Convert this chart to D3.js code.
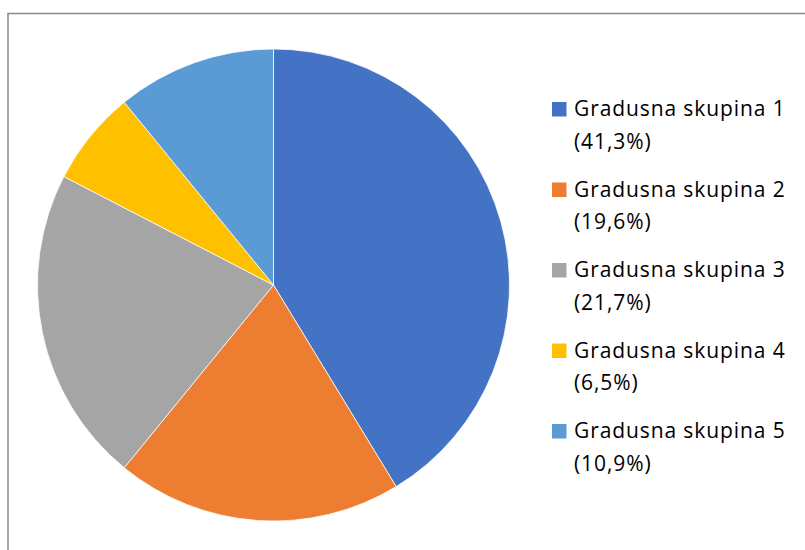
<!DOCTYPE html>
<html>
<head>
<meta charset="utf-8">
<script src="https://cdn.jsdelivr.net/npm/d3@7"></script>
<style>
  body { margin: 0; background: #fff; }
  svg { display: block; }
</style>
</head>
<body>
<div id="chart_area"></div>
<script>
var categories = ["Gradusna skupina 1", "Gradusna skupina 2", "Gradusna skupina 3", "Gradusna skupina 4", "Gradusna skupina 5"];
var values = [41.3, 19.6, 21.7, 6.5, 10.9];
var labels = ["(41,3%)", "(19,6%)", "(21,7%)", "(6,5%)", "(10,9%)"];
var colors = ["#4472C4", "#ED7D31", "#A5A5A5", "#FFC000", "#5B9BD5"];

var width = 805, height = 550;

var svg = d3.select("#chart_area")
    .append("svg")
        .attr("width", width)
        .attr("height", height);

// chart frame (cropped on right and bottom)
svg.append("rect")
    .attr("x", 8)
    .attr("y", 13.5)
    .attr("width", 820)
    .attr("height", 560)
    .attr("fill", "none")
    .attr("stroke", "#898989")
    .attr("stroke-width", 1.5);

var cx = 273.5, cy = 285, radius = 236;

var color = d3.scaleOrdinal()
    .domain(categories)
    .range(colors);

var pie = d3.pie()
    .sort(null)
    .value(function(d){ return d.value; });

var arc = d3.arc()
    .innerRadius(0)
    .outerRadius(radius);

var data = categories.map(function(c, i){
    return {name: c, value: values[i], label: labels[i]};
});

svg.append("g")
    .attr("transform", "translate(" + cx + "," + cy + ")")
    .selectAll("path")
    .data(pie(data))
    .enter().append("path")
        .attr("d", arc)
        .attr("fill", function(d){ return color(d.data.name); })
        .attr("stroke", "#fff")
        .attr("stroke-width", 0.75);

// legend
var legend = svg.append("g")
    .attr("transform", "translate(552, 116)");

var items = legend.selectAll("g")
    .data(data)
    .enter().append("g")
        .attr("transform", function(d, i){ return "translate(0," + (i * 80.5) + ")"; });

items.append("rect")
    .attr("x", 0)
    .attr("y", -14)
    .attr("width", 14.5)
    .attr("height", 14.5)
    .attr("fill", function(d){ return color(d.name); });

items.append("text")
    .attr("x", 22)
    .attr("y", 0)
    .attr("font-family", "'Open Sans', Lato, sans-serif")
    .attr("font-size", "21px")
    .attr("letter-spacing", "0.9px")
    .attr("fill", "#000")
    .text(function(d){ return d.name; });

items.append("text")
    .attr("x", 22)
    .attr("y", 32.5)
    .attr("font-family", "'Open Sans', Lato, sans-serif")
    .attr("font-size", "21px")
    .attr("letter-spacing", "0.9px")
    .attr("fill", "#000")
    .text(function(d){ return d.label; });
</script>
</body>
</html>
